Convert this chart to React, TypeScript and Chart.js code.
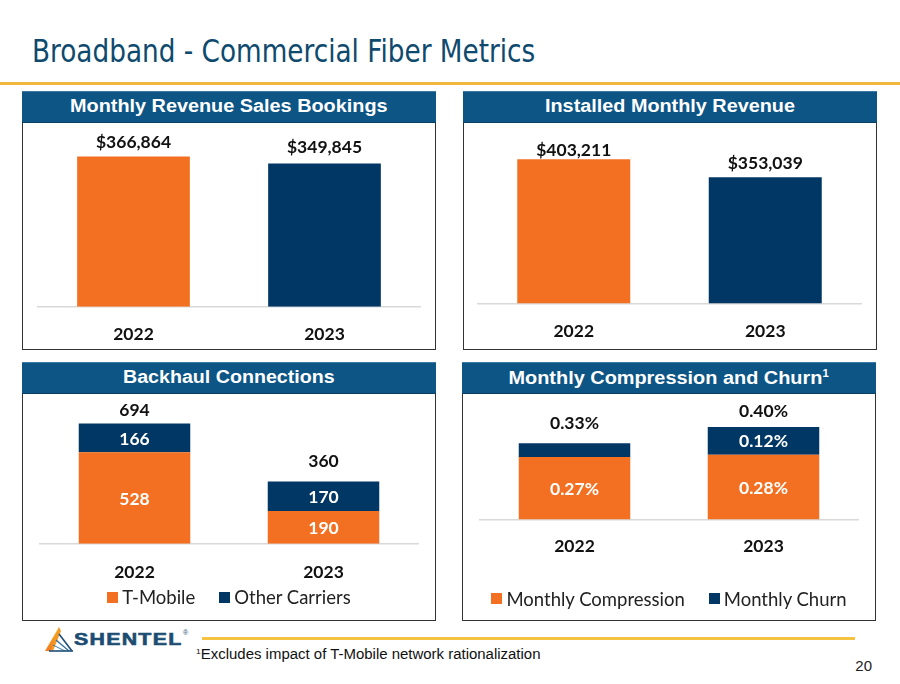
import React, { useEffect, useLayoutEffect, useRef, useState } from "react";
import { Chart, registerables } from "chart.js";

Chart.register(...registerables);

// ---------- data ----------
const YEARS = ["2022", "2023"];
const SALES_BOOKINGS = [366864, 349845];
const INSTALLED_REVENUE = [403211, 353039];
const BACKHAUL_SERIES = ["T-Mobile", "Other Carriers"];
const BACKHAUL_TMOBILE = [528, 190];
const BACKHAUL_OTHER = [166, 170];
const CHURN_SERIES = ["Monthly Compression", "Monthly Churn"];
const COMPRESSION = [0.27, 0.28];
const CHURN = [0.06, 0.12];

// ---------- styles ----------
const ORANGE = "#F37022";
const NAVY = "#003764";
const HEADER_BLUE = "#0C5585";
const TITLE_BLUE = "#0E4A6E";
const GOLD = "#F3B73C";
const LABEL_FONT = "bold 17.5px Lato";
const TEXT = "#111111";

const fmtMoney = (v: number) => "$" + v.toLocaleString("en-US");
const fmtCount = (v: number) => String(v);
const fmtPct = (v: number) => v.toFixed(2) + "%";

function labelPlugin(opts: { fmt: (v: number) => string; gaps: number[]; stacked: boolean }) {
  return {
    id: "barLabels",
    afterDraw(chart: any) {
      const ctx = chart.ctx;
      ctx.save();
      ctx.font = LABEL_FONT;
      ctx.textAlign = "center";
      ctx.textBaseline = "middle";
      const ds = chart.data.datasets;
      const metas = ds.map((_: any, i: number) => chart.getDatasetMeta(i));
      if (opts.stacked) {
        metas.forEach((meta: any, di: number) => {
          meta.data.forEach((el: any, i: number) => {
            const { x, y, base } = el.getProps(["x", "y", "base"], true);
            if (Math.abs(base - y) < 20) return;
            ctx.fillStyle = "#FFFFFF";
            ctx.fillText(opts.fmt(ds[di].data[i]), x, (y + base) / 2 + 1);
          });
        });
      }
      const topMeta = metas[metas.length - 1];
      topMeta.data.forEach((el: any, i: number) => {
        const { x, y } = el.getProps(["x", "y"], true);
        const total = ds.reduce((s: number, d: any) => s + d.data[i], 0);
        ctx.fillStyle = TEXT;
        ctx.fillText(opts.fmt(total), x, y - opts.gaps[i]);
      });
      ctx.restore();
    },
  };
}

function makeConfig(p: {
  datasets: any[];
  stacked: boolean;
  ymax: number;
  padding: any;
  tickPadding: number;
  plugin: any;
}) {
  return {
    type: "bar",
    data: { labels: YEARS, datasets: p.datasets },
    options: {
      animation: false,
      responsive: true,
      maintainAspectRatio: false,
      layout: { padding: p.padding },
      plugins: { legend: { display: false }, tooltip: { enabled: false } },
      scales: {
        x: {
          stacked: p.stacked,
          grid: { display: false, drawTicks: false },
          border: { display: true, color: "#D9D9D9", width: 1.5 },
          ticks: {
            padding: p.tickPadding,
            color: TEXT,
            font: { family: "Lato", weight: "bold", size: 17.5 },
          },
        },
        y: { stacked: p.stacked, display: false, min: 0, max: p.ymax },
      },
    },
    plugins: [p.plugin],
  };
}

function ChartBox({ config, left, top, width, height }: any) {
  const ref = useRef<HTMLCanvasElement>(null);
  useEffect(() => {
    if (!ref.current) return;
    const chart = new Chart(ref.current, config);
    return () => chart.destroy();
  }, [config]);
  return (
    <div style={{ position: "absolute", left, top, width, height }}>
      <canvas ref={ref} />
    </div>
  );
}

function FitText({ width, origin = "center", style, children }: any) {
  const ref = useRef<HTMLSpanElement>(null);
  const [s, setS] = useState(1);
  useLayoutEffect(() => {
    const measure = () => {
      const el = ref.current;
      if (!el) return;
      const w = el.offsetWidth;
      if (w > 0) setS(width / w);
    };
    measure();
    (document as any).fonts?.ready.then(measure);
  }, [width]);
  return (
    <span
      ref={ref}
      style={{
        display: "inline-block",
        whiteSpace: "nowrap",
        transform: `scaleX(${s})`,
        transformOrigin: origin,
        ...style,
      }}
    >
      {children}
    </span>
  );
}

function Panel({ left, top, width, boxHeight, title, textWidth }: any) {
  return (
    <>
      <div
        style={{
          position: "absolute",
          left,
          top: top + 31,
          width,
          height: boxHeight,
          border: "1.5px solid #333",
          boxSizing: "border-box",
          background: "#fff",
        }}
      />
      <div
        style={{
          position: "absolute",
          left,
          top,
          width,
          height: 32,
          background: HEADER_BLUE,
          borderTop: "1px solid #3d7aa6",
          borderBottom: "1px solid #083f63",
          boxSizing: "border-box",
          display: "flex",
          alignItems: "center",
          justifyContent: "center",
          color: "#fff",
          fontFamily: "'Liberation Sans', Arial, sans-serif",
          fontWeight: "bold",
          fontSize: 17.6,
          lineHeight: 1,
        }}
      >
        <FitText width={textWidth}>{title}</FitText>
      </div>
    </>
  );
}

function Legend({ left, top, width, names, colors }: any) {
  return (
    <div
      style={{
        position: "absolute",
        left,
        top,
        width,
        height: 22,
        display: "flex",
        justifyContent: "center",
        alignItems: "center",
        gap: 24,
        fontFamily: "Lato, sans-serif",
        fontSize: 18.5,
        color: "#222",
      }}
    >
      {names.map((n: string, i: number) => (
        <div key={n} style={{ display: "flex", alignItems: "center", gap: 4 }}>
          <span style={{ width: 11, height: 11, background: colors[i], display: "inline-block" }} />
          <span>{n}</span>
        </div>
      ))}
    </div>
  );
}

const EXTRA = 18.3;

const cfg1 = makeConfig({
  datasets: [
    { data: SALES_BOOKINGS, backgroundColor: [ORANGE, NAVY], barPercentage: 0.59, categoryPercentage: 1 },
  ],
  stacked: false,
  ymax: 421600,
  padding: { left: 14, right: 14, top: 10, bottom: 4.6 },
  tickPadding: 17,
  plugin: labelPlugin({ fmt: fmtMoney, gaps: [14, 15.7], stacked: false }),
});

const cfg2 = makeConfig({
  datasets: [
    { data: INSTALLED_REVENUE, backgroundColor: [ORANGE, NAVY], barPercentage: 0.59, categoryPercentage: 1 },
  ],
  stacked: false,
  ymax: 474200,
  padding: { left: 13, right: 14, top: 10, bottom: 6.8 },
  tickPadding: 17.5,
  plugin: labelPlugin({ fmt: fmtMoney, gaps: [8.6, 14.3], stacked: false }),
});

const cfg3 = makeConfig({
  datasets: [
    { label: BACKHAUL_SERIES[0], data: BACKHAUL_TMOBILE, backgroundColor: ORANGE, barPercentage: 0.59, categoryPercentage: 1 },
    { label: BACKHAUL_SERIES[1], data: BACKHAUL_OTHER, backgroundColor: NAVY, barPercentage: 0.59, categoryPercentage: 1 },
  ],
  stacked: true,
  ymax: 801,
  padding: { left: 16, right: 16, top: 10, bottom: 2.5 },
  tickPadding: 18,
  plugin: labelPlugin({ fmt: fmtCount, gaps: [13.3, 19.7], stacked: true }),
});

const cfg4 = makeConfig({
  datasets: [
    { label: CHURN_SERIES[0], data: COMPRESSION, backgroundColor: ORANGE, barPercentage: 0.59, categoryPercentage: 1 },
    { label: CHURN_SERIES[1], data: CHURN, backgroundColor: NAVY, barPercentage: 0.59, categoryPercentage: 1 },
  ],
  stacked: true,
  ymax: 0.4948,
  padding: { left: 16, right: 16, top: 10, bottom: 29.8 },
  tickPadding: 16.5,
  plugin: labelPlugin({ fmt: fmtPct, gaps: [19.3, 15.7], stacked: true }),
});

function Logo() {
  return (
    <svg style={{ position: "absolute", left: 45, top: 627 }} width={28} height={25} viewBox="0 0 28 25">
      <defs>
        <linearGradient id="lg" x1="0" y1="0" x2="0" y2="1">
          <stop offset="0" stopColor="#F7B21E" />
          <stop offset="1" stopColor="#F07A22" />
        </linearGradient>
      </defs>
      <polygon points="14,0 0,24 6,24 14,7" fill="url(#lg)" />
      <polygon points="14,0 16,4 8,24 6,24" fill="#F39A24" />
      <line x1="14" y1="7" x2="27" y2="24" stroke="#1F4E79" strokeWidth="1.6" />
      <line x1="11" y1="13" x2="24" y2="24" stroke="#2B6A9A" strokeWidth="1.2" />
      <line x1="8" y1="18" x2="20" y2="24" stroke="#3B7DB0" strokeWidth="1" />
      <line x1="4" y1="24" x2="28" y2="24" stroke="#1F4E79" strokeWidth="1.6" />
    </svg>
  );
}

export default function App() {
  return (
    <div
      style={{
        position: "absolute",
        left: 0,
        top: 0,
        width: 900,
        height: 684,
        background: "#fff",
        overflow: "hidden",
      }}
    >
      <div
        style={{
          position: "absolute",
          left: 32,
          top: 35,
          fontFamily: "'DejaVu Sans', Verdana, sans-serif",
          fontSize: 32,
          lineHeight: 1,
          color: TITLE_BLUE,
        }}
      >
        <FitText width={503} origin="left">Broadband - Commercial Fiber Metrics</FitText>
      </div>
      <div style={{ position: "absolute", left: 0, top: 82, width: 900, height: 3, background: GOLD }} />

      <Panel left={22} top={91} width={414} boxHeight={228} title="Monthly Revenue Sales Bookings" textWidth={318} />
      <Panel left={463} top={91} width={414} boxHeight={228} title="Installed Monthly Revenue" textWidth={250} />
      <Panel left={22} top={362} width={414} boxHeight={228} title="Backhaul Connections" textWidth={212} />
      <Panel
        left={462}
        top={362}
        width={414}
        boxHeight={228}
        title={
          <>
            Monthly Compression and Churn<sup style={{ fontSize: 10, verticalAlign: 7 }}>1</sup>
          </>
        }
        textWidth={320}
      />

      <ChartBox config={cfg1} left={24} top={124} width={410} height={224 + EXTRA} />
      <ChartBox config={cfg2} left={465} top={124} width={410} height={224 + EXTRA} />
      <ChartBox config={cfg3} left={24} top={395} width={410} height={190 + EXTRA} />
      <ChartBox config={cfg4} left={464} top={395} width={410} height={190 + EXTRA} />

      <Legend left={24} top={586} width={410} names={BACKHAUL_SERIES} colors={[ORANGE, NAVY]} />
      <Legend left={464} top={587.5} width={410} names={CHURN_SERIES} colors={[ORANGE, NAVY]} />

      <Logo />
      <div
        style={{
          position: "absolute",
          left: 74,
          top: 631,
          fontFamily: "'Liberation Sans', Arial, sans-serif",
          fontWeight: "bold",
          fontSize: 17,
          lineHeight: 1,
          color: "#1B4C72",
        }}
      >
        <FitText width={108} origin="left" style={{ letterSpacing: 1, WebkitTextStroke: "0.6px #1B4C72" }}>
          SHENTEL
        </FitText>
      </div>
      <div
        style={{
          position: "absolute",
          left: 183,
          top: 629,
          fontFamily: "'Liberation Sans', Arial, sans-serif",
          fontSize: 7,
          color: "#1B4C72",
        }}
      >
        ®
      </div>
      <div style={{ position: "absolute", left: 202, top: 636.5, width: 653, height: 3, background: "#F5C242" }} />
      <div
        style={{
          position: "absolute",
          left: 196,
          top: 647,
          fontFamily: "'Liberation Sans', Arial, sans-serif",
          fontSize: 14,
          lineHeight: 1,
          color: "#111",
        }}
      >
        <FitText width={344} origin="left">
          <sup style={{ fontSize: 8, verticalAlign: 5 }}>1</sup>Excludes impact of T-Mobile network rationalization
        </FitText>
      </div>
      <div
        style={{
          position: "absolute",
          right: 28,
          top: 658,
          fontFamily: "'Liberation Sans', Arial, sans-serif",
          fontSize: 15,
          lineHeight: 1,
          color: "#222",
        }}
      >
        20
      </div>
    </div>
  );
}
